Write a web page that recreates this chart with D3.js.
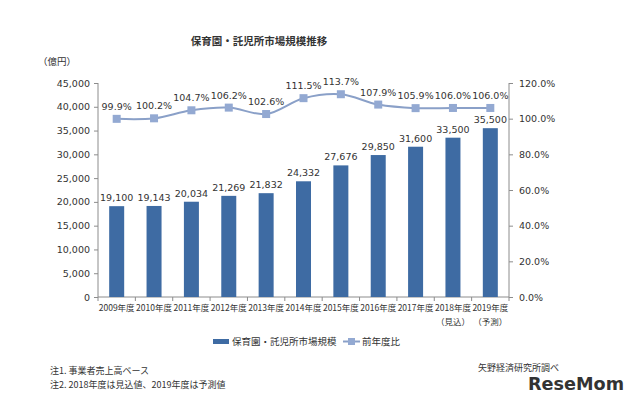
<!DOCTYPE html>
<html><head><meta charset="utf-8">
<script src="https://cdn.jsdelivr.net/npm/d3@7"></script>
<style>body{margin:0;background:#fff}svg{display:block}text{font-family:"DejaVu Sans",Verdana,sans-serif;fill:#333}</style>
</head><body>
<script>
const categories = ["2009年度","2010年度","2011年度","2012年度","2013年度","2014年度","2015年度","2016年度","2017年度","2018年度","2019年度"];
const subLabels = ["","","","","","","","","","（見込）","（予測）"];
const marketSize = [19100,19143,20034,21269,21832,24332,27676,29850,31600,33500,35500];
const yoyRatio = [99.9,100.2,104.7,106.2,102.6,111.5,113.7,107.9,105.9,106.0,106.0];
const leftTicks = [0,5000,10000,15000,20000,25000,30000,35000,40000,45000];
const rightTicks = [0,20,40,60,80,100,120];

const W=640,H=401;
const svg=d3.select("body").append("svg").attr("width",W).attr("height",H);
const L=98,R=509,T=83,B=297;
const x=d3.scaleBand().domain(categories).range([L,R]);
const yL=d3.scaleLinear().domain([0,45000]).range([B,T]);
const yR=d3.scaleLinear().domain([0,120]).range([B,T]);
const axisColor="#8c8c8c";
const fs="9.5px";
const jp="'Noto Sans CJK JP',sans-serif";

// title
svg.append("text").attr("x",259).attr("y",45).attr("text-anchor","middle").attr("font-size","10.5px").attr("font-weight","bold").attr("fill","#444").style("font-family",jp).text("保育園・託児所市場規模推移");
svg.append("text").attr("x",38).attr("y",65).attr("font-size","9.5px").style("font-family",jp).text("（億円）");

// left axis
const gl=svg.append("g").attr("transform",`translate(${L},0)`).call(d3.axisLeft(yL).tickValues(leftTicks).tickSize(4).tickFormat(d3.format(",")));
gl.selectAll("text").attr("font-size",fs).attr("fill","#333").style("font-family","'DejaVu Sans',sans-serif").attr("dx","-1");
gl.selectAll("line,path").attr("stroke",axisColor);
gl.select("path").attr("d",`M0,${T}V${B}`);

// right axis
const gr=svg.append("g").attr("transform",`translate(${R},0)`).call(d3.axisRight(yR).tickValues(rightTicks).tickSize(4).tickFormat(d=>d.toFixed(1)+"%"));
gr.selectAll("text").attr("font-size",fs).attr("fill","#333").style("font-family","'DejaVu Sans',sans-serif").attr("dx","3");
gr.selectAll("line,path").attr("stroke",axisColor);
gr.select("path").attr("d",`M0,${T}V${B}`);

// x axis
const gx=svg.append("g");
gx.append("line").attr("x1",L).attr("x2",R).attr("y1",B).attr("y2",B).attr("stroke",axisColor);
gx.selectAll(".tk").data(categories.concat(["end"])).enter().append("line")
  .attr("x1",(d,i)=>L+i*x.step()).attr("x2",(d,i)=>L+i*x.step()).attr("y1",B).attr("y2",B+4).attr("stroke",axisColor);
gx.selectAll(".cl").data(categories).enter().append("text")
  .attr("x",d=>x(d)+x.bandwidth()/2).attr("y",311).attr("text-anchor","middle").attr("font-size","8.5px")
  .style("font-family",jp).text(d=>d);
gx.selectAll(".sl").data(subLabels).enter().append("text")
  .attr("x",(d,i)=>x(categories[i])+x.bandwidth()/2).attr("y",325).attr("text-anchor","middle").attr("font-size","8.5px")
  .style("font-family",jp).text(d=>d);

// bars
const bw=15;
svg.selectAll(".bar").data(marketSize).enter().append("rect")
  .attr("x",(d,i)=>x(categories[i])+x.bandwidth()/2-bw/2).attr("width",bw)
  .attr("y",d=>yL(d)).attr("height",d=>B-yL(d)).attr("fill","#3e6ba3");
svg.selectAll(".bl").data(marketSize).enter().append("text")
  .attr("x",(d,i)=>x(categories[i])+x.bandwidth()/2).attr("y",d=>yL(d)-5).attr("text-anchor","middle")
  .attr("font-size",fs).text(d=>d3.format(",")(d));

// line
const pts=yoyRatio.map((d,i)=>[x(categories[i])+x.bandwidth()/2,yR(d)]);
svg.append("path").attr("d",d3.line().curve(d3.curveCatmullRom.alpha(0.5))(pts)).attr("fill","none").attr("stroke","#8aa0c8").attr("stroke-width",2);
svg.selectAll(".mk").data(pts).enter().append("rect").attr("x",d=>d[0]-4).attr("y",d=>d[1]-4).attr("width",8).attr("height",8).attr("fill","#93a9d2");
svg.selectAll(".ll").data(yoyRatio).enter().append("text")
  .attr("x",(d,i)=>pts[i][0]).attr("y",(d,i)=>pts[i][1]-9).attr("text-anchor","middle").attr("font-size",fs)
  .text(d=>d.toFixed(1)+"%");

// legend
svg.append("rect").attr("x",213).attr("y",339).attr("width",16).attr("height",5).attr("fill","#3e6ba3");
svg.append("text").attr("x",232).attr("y",345).attr("font-size","9.5px").style("font-family",jp).text("保育園・託児所市場規模");
svg.append("line").attr("x1",343).attr("x2",360).attr("y1",341.5).attr("y2",341.5).attr("stroke","#8aa0c8").attr("stroke-width",2);
svg.append("rect").attr("x",348).attr("y",338).attr("width",7).attr("height",7).attr("fill","#93a9d2");
svg.append("text").attr("x",362).attr("y",345).attr("font-size","9.5px").style("font-family",jp).text("前年度比");

// notes
svg.append("text").attr("x",50).attr("y",374).attr("font-size","9px").style("font-family",jp).text("注1. 事業者売上高ベース");
svg.append("text").attr("x",50).attr("y",388).attr("font-size","9px").style("font-family",jp).text("注2. 2018年度は見込値、2019年度は予測値");
svg.append("text").attr("x",478).attr("y",371).attr("font-size","9px").style("font-family",jp).text("矢野経済研究所調べ");
svg.append("text").attr("x",528).attr("y",390).attr("font-size","18px").attr("font-weight","bold").attr("fill","#8a8a8a").style("font-family","'DejaVu Sans',sans-serif").attr("textLength",96).attr("lengthAdjust","spacingAndGlyphs").text("ReseMom");
</script>
</body></html>
